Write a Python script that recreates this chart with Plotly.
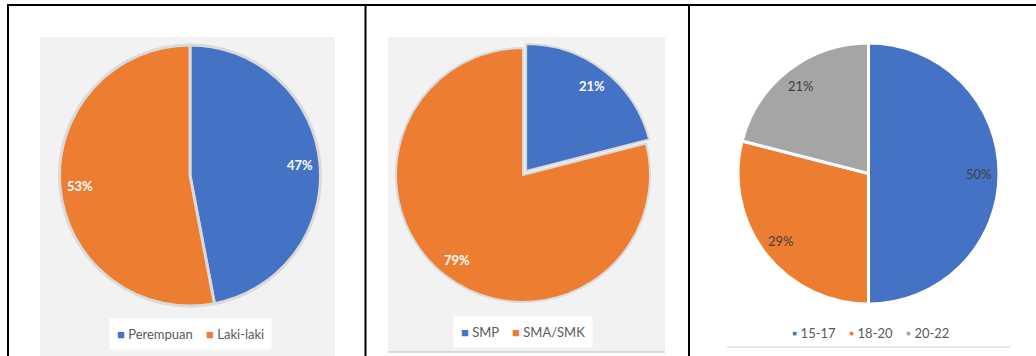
import math
import plotly.graph_objects as go

W, H = 1036, 356

# ---- data ----
gender_labels = ["Perempuan", "Laki-laki"]
gender_values = [47, 53]
school_labels = ["SMP", "SMA/SMK"]
school_values = [21, 79]
age_labels = ["15-17", "18-20", "20-22"]
age_values = [50, 29, 21]

BLUE, ORANGE, GRAY = "#4472C4", "#ED7D31", "#A5A5A5"
FONT = "Lato, 'Open Sans', sans-serif"


def px_x(x):
    return x / W


def px_y(y):
    return 1 - y / H


def domain(cx, cy, R):
    return dict(x=[px_x(cx - R), px_x(cx + R)], y=[px_y(cy + R), px_y(cy - R)])


fig = go.Figure()

panels = [
    dict(labels=gender_labels, values=gender_values, colors=[BLUE, ORANGE],
         cx=190, cy=175.5, r=130.5, pull=[0, 0], line="#dadada", lw=3,
         tcolor="white", tbold=True, lx=190, ly=334, sym="■", bg="white"),
    dict(labels=school_labels, values=school_values, colors=[BLUE, ORANGE],
         cx=523, cy=175, r=127, pull=[0.04, 0], line="#dadada", lw=2,
         tcolor="white", tbold=True, lx=523, ly=332, sym="■", bg="white"),
    dict(labels=age_labels, values=age_values, colors=[BLUE, ORANGE, GRAY],
         cx=868.5, cy=173.5, r=130.5, pull=[0, 0, 0], line="white", lw=3,
         tcolor="#404040", tbold=False, lx=870, ly=333, sym="▪", bg="rgba(0,0,0,0)"),
]

annotations = []
for p in panels:
    R = p["r"] * (1 + max(p["pull"]))
    fig.add_trace(go.Pie(
        labels=p["labels"], values=p["values"], sort=False,
        direction="clockwise", rotation=0, pull=p["pull"],
        marker=dict(colors=p["colors"], line=dict(color=p["line"], width=p["lw"])),
        textinfo="none", hoverinfo="label+percent", showlegend=False,
        domain=domain(p["cx"], p["cy"], R),
    ))
    total = sum(p["values"])
    cum = 0
    for v, pl in zip(p["values"], p["pull"]):
        mid = (cum + v / 2) / total * 2 * math.pi
        cum += v
        d = p["r"] * (0.85 + pl)
        x = p["cx"] + d * math.sin(mid)
        y = p["cy"] - d * math.cos(mid)
        txt = f"{round(v / total * 100)}%"
        if p["tbold"]:
            txt = f"<b>{txt}</b>"
        annotations.append(dict(
            x=px_x(x), y=px_y(y), xref="paper", yref="paper", text=txt,
            showarrow=False, font=dict(family=FONT, size=13, color=p["tcolor"]),
            xanchor="center", yanchor="middle"))
    # legend as a compact text row
    parts = [f"<span style='color:{c}'>{p['sym']}</span> {lab}"
             for c, lab in zip(p["colors"], p["labels"])]
    annotations.append(dict(
        x=px_x(p["lx"]), y=px_y(p["ly"]), xref="paper", yref="paper",
        text="    ".join(parts), showarrow=False,
        font=dict(family=FONT, size=13, color="#595959"),
        xanchor="center", yanchor="middle", bgcolor=p["bg"], borderpad=7))

shapes = [
    # panel backgrounds
    dict(type="rect", xref="paper", yref="paper", x0=px_x(40), x1=px_x(335),
         y0=px_y(356), y1=px_y(37), fillcolor="#f2f2f2", line=dict(width=0), layer="below"),
    dict(type="rect", xref="paper", yref="paper", x0=px_x(388), x1=px_x(665),
         y0=px_y(352), y1=px_y(37), fillcolor="#f2f2f2", line=dict(width=0), layer="below"),
    dict(type="line", xref="paper", yref="paper", x0=px_x(388), x1=px_x(665),
         y0=px_y(352), y1=px_y(352), line=dict(color="#d0d0d0", width=1.5)),
    dict(type="line", xref="paper", yref="paper", x0=px_x(727), x1=px_x(1010),
         y0=px_y(347), y1=px_y(347), line=dict(color="#dcdcdc", width=1.5)),
    # table borders
    dict(type="line", xref="paper", yref="paper", x0=px_x(7), x1=1,
         y0=px_y(5), y1=px_y(5), line=dict(color="black", width=2)),
    dict(type="line", xref="paper", yref="paper", x0=px_x(8), x1=px_x(8),
         y0=px_y(4), y1=0, line=dict(color="black", width=2)),
    dict(type="line", xref="paper", yref="paper", x0=px_x(365.5), x1=px_x(365.5),
         y0=px_y(4), y1=0, line=dict(color="black", width=2)),
    dict(type="line", xref="paper", yref="paper", x0=px_x(689), x1=px_x(689),
         y0=px_y(4), y1=0, line=dict(color="black", width=2)),
]

fig.update_layout(
    width=W, height=H, margin=dict(l=0, r=0, t=0, b=0),
    paper_bgcolor="white", plot_bgcolor="white",
    showlegend=False,
    shapes=shapes, annotations=annotations,
)

fig.write_html("out.html", config={"displayModeBar": False},
               post_script="document.body.style.margin='0px';")
